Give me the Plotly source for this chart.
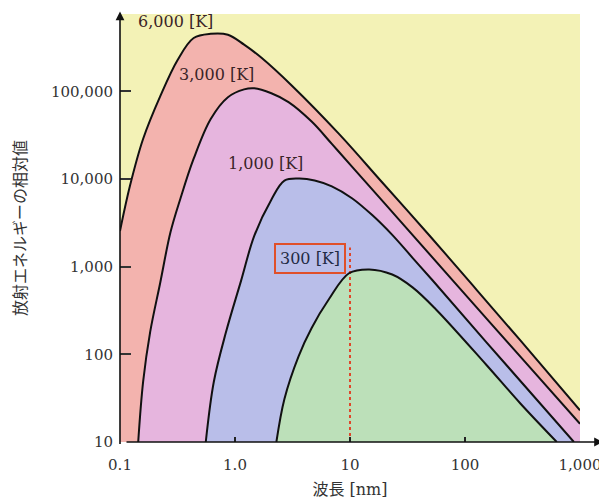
import plotly.graph_objects as go

# ---- data (wavelength, relative radiant energy) ----
wavelength_6000 = [0.1, 0.1224, 0.159, 0.224, 0.316, 0.437, 0.615, 0.868, 1.2, 1.69, 3.16, 8.02, 19.1, 49.3, 117, 303, 1000]
energy_6000 = [2550, 8450, 28700, 87900, 226000, 405000, 452000, 441000, 340000, 242000, 114000, 32600, 9100, 2250, 610, 144, 23]

wavelength_3000 = [0.144, 0.159, 0.183, 0.224, 0.275, 0.336, 0.437, 0.615, 0.868, 1.2, 1.47, 2.07, 2.92, 4.64, 6.95, 10.4, 26.9, 78.5, 303, 1000]
energy_3000 = [10, 49, 180, 660, 2480, 6030, 17000, 48300, 85500, 105000, 108000, 94800, 75200, 45100, 25100, 13800, 3390, 693, 94, 16.1]

wavelength_1000 = [0.557, 0.655, 0.834, 1.13, 1.47, 2.07, 2.69, 3.57, 4.93, 6.95, 10.4, 15.6, 23.3, 35, 52.4, 153, 885]
energy_1000 = [10, 49, 178, 692, 2240, 5800, 9550, 10100, 9620, 8230, 6030, 3870, 2300, 1260, 695, 138, 10]

wavelength_300 = [2.29, 2.69, 3.57, 4.64, 6.55, 9.8, 14.7, 23.3, 35, 55.7, 153, 303, 628]
energy_300 = [10, 31, 95, 200, 424, 840, 930, 813, 580, 327, 76, 27.5, 10]

curve_labels = ["6,000 [K]", "3,000 [K]", "1,000 [K]", "300 [K]"]

x_tick_values = [0.1, 1, 10, 100, 1000]
x_tick_text = ["0.1", "1.0", "10", "100", "1,000"]
y_tick_values = [10, 100, 1000, 10000, 100000]
y_tick_text = ["10", "100", "1,000", "10,000", "100,000"]

marker_wavelength = [10, 10]
marker_energy = [10, 1650]

# ---- styling ----
fill_colors = ["#F3B3AE", "#E6B5DE", "#B9BEE9", "#BCE0B9"]
bg_yellow = "#F3F2B6"
serif = "DejaVu Serif, Liberation Serif, serif"
cjk = "DejaVu Serif, Noto Sans CJK JP, serif"

series = [
    (wavelength_6000, energy_6000),
    (wavelength_3000, energy_3000),
    (wavelength_1000, energy_1000),
    (wavelength_300, energy_300),
]

fig = go.Figure()

for (wl, en), fc in zip(series, fill_colors):
    fig.add_trace(go.Scatter(
        x=wl, y=en, mode="lines",
        line=dict(width=0, shape="spline", smoothing=1.0),
        fill="tozeroy", fillcolor=fc,
        hoverinfo="skip", showlegend=False,
    ))

fig.add_trace(go.Scatter(
    x=marker_wavelength, y=marker_energy, mode="lines",
    line=dict(color="#E0462A", width=2, dash="dot"),
    hoverinfo="skip", showlegend=False,
))

for wl, en in series:
    fig.add_trace(go.Scatter(
        x=wl, y=en, mode="lines",
        line=dict(color="#111111", width=2, shape="spline", smoothing=1.0),
        showlegend=False,
    ))

label_pos = [(-0.518, 5.79), (-0.158, 5.19), (0.263, 4.175)]
annotations = []
for (lx, ly), txt in zip(label_pos, curve_labels[:3]):
    annotations.append(dict(
        x=lx, y=ly, xref="x", yref="y", text=txt, showarrow=False,
        font=dict(family=serif, size=16, color="#3A2327"),
    ))
annotations.append(dict(
    x=0.649, y=3.09, xref="x", yref="y", text=curve_labels[3], showarrow=False,
    font=dict(family=serif, size=16, color="#1F2A44"),
    bordercolor="#E0502A", borderwidth=2, borderpad=4,
))
# axis arrows
annotations.append(dict(
    x=1.05, y=0, xref="paper", yref="paper", ax=-478, ay=0, text="",
    showarrow=True, arrowhead=2, arrowsize=1.1, arrowwidth=1.6, arrowcolor="#111111",
))
annotations.append(dict(
    x=0, y=1.006, xref="paper", yref="paper", ax=0, ay=434, text="",
    showarrow=True, arrowhead=2, arrowsize=1.1, arrowwidth=1.6, arrowcolor="#111111",
))

# page body has an 8px default margin; size the figure so the plot lands in place
fig.update_layout(
    width=599, height=493,
    margin=dict(l=112, r=24, t=6, b=47),
    paper_bgcolor="white", plot_bgcolor=bg_yellow,
    showlegend=False,
    font=dict(family=serif, size=15, color="#333333"),
    annotations=annotations,
)

fig.update_xaxes(
    type="log", range=[-1, 3],
    tickvals=x_tick_values, ticktext=x_tick_text,
    ticks="inside", ticklen=5, tickwidth=1.5, tickcolor="#222222",
    showgrid=False, zeroline=False, showline=False,
    ticklabelstandoff=12,
    tickfont=dict(family=serif, size=15, color="#333333"),
    title=dict(text="波長 [nm]", font=dict(family=cjk, size=16, color="#333333"), standoff=10),
)
fig.update_yaxes(
    type="log", range=[1, 5.881],
    tickvals=y_tick_values, ticktext=y_tick_text,
    ticks="inside", ticklen=11, tickwidth=2, tickcolor="#333333",
    showgrid=False, zeroline=False, showline=False,
    ticklabelstandoff=6,
    tickfont=dict(family=serif, size=15, color="#333333"),
    title=dict(text="放射エネルギーの相対値", font=dict(family=cjk, size=16, color="#333333"), standoff=20),
)

fig.write_html("out.html")
